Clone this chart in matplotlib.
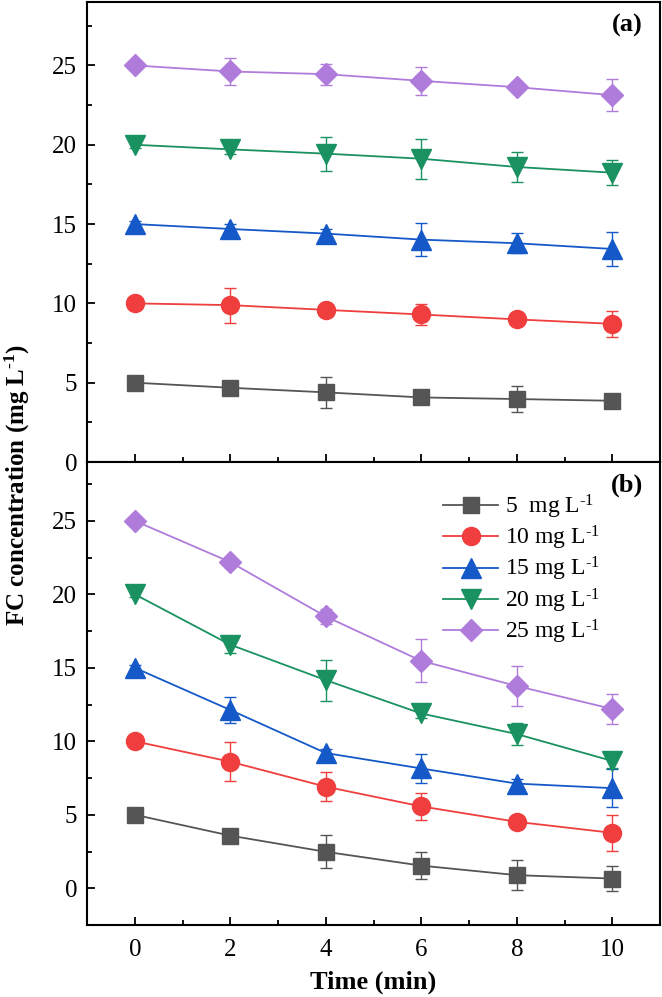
import matplotlib
matplotlib.use('Agg')
import matplotlib.pyplot as plt
from matplotlib.ticker import MultipleLocator

plt.rcParams['font.family'] = ['Liberation Serif', 'DejaVu Serif']
plt.rcParams['mathtext.fontset'] = 'custom'
plt.rcParams['mathtext.rm'] = 'Liberation Serif'
plt.rcParams['mathtext.bf'] = 'Liberation Serif:bold'
plt.rcParams['mathtext.default'] = 'regular'

time = [0, 2, 4, 6, 8, 10]
series_labels = ['5  mg L$^{\\text{-1}}$', '10 mg L$^{\\text{-1}}$', '15 mg L$^{\\text{-1}}$',
                 '20 mg L$^{\\text{-1}}$', '25 mg L$^{\\text{-1}}$']
colors = ['#555555', '#F03E3E', '#1558C8', '#1A9160', '#B07CDC']
markers = ['s', 'o', '^', 'v', 'D']
msizes = [11.5, 13, 14.5, 14.5, 11.5]

# Panel (a)
a_5 = [5.0, 4.68, 4.39, 4.07, 3.97, 3.86]
a_10 = [10.0, 9.89, 9.59, 9.30, 8.99, 8.71]
a_15 = [15.0, 14.69, 14.40, 14.02, 13.79, 13.43]
a_20 = [20.0, 19.71, 19.44, 19.12, 18.60, 18.24]
a_25 = [25.0, 24.62, 24.45, 24.03, 23.63, 23.13]
a_5_err = [0.2, 0.3, 0.98, 0.3, 0.81, 0.3]
a_10_err = [0.2, 1.1, 0.3, 0.65, 0.3, 0.84]
a_15_err = [0.2, 0.3, 0.3, 1.06, 0.63, 1.05]
a_20_err = [0.2, 0.3, 1.07, 1.26, 0.97, 0.8]
a_25_err = [0.2, 0.86, 0.67, 0.9, 0.3, 1.0]

# Panel (b)
b_5 = [5.0, 3.58, 2.48, 1.54, 0.89, 0.66]
b_10 = [10.0, 8.61, 6.91, 5.57, 4.52, 3.77]
b_15 = [15.0, 12.13, 9.20, 8.15, 7.12, 6.81]
b_20 = [20.0, 16.57, 14.16, 11.89, 10.49, 8.66]
b_25 = [25.0, 22.19, 18.49, 15.47, 13.76, 12.20]
b_5_err = [0.2, 0.3, 1.13, 0.94, 1.0, 0.85]
b_10_err = [0.2, 1.32, 0.98, 0.94, 0.3, 1.23]
b_15_err = [0.2, 0.88, 0.3, 0.97, 0.3, 1.3]
b_20_err = [0.2, 0.55, 1.4, 0.3, 0.73, 0.5]
b_25_err = [0.2, 0.3, 0.5, 1.46, 1.35, 1.0]

panels = [
    ([a_5, a_10, a_15, a_20, a_25], [a_5_err, a_10_err, a_15_err, a_20_err, a_25_err], '(a)', (0, 29)),
    ([b_5, b_10, b_15, b_20, b_25], [b_5_err, b_10_err, b_15_err, b_20_err, b_25_err], '(b)', (-2.5, 29)),
]

fig = plt.figure(figsize=(6.62, 9.97), dpi=100)
L, R = 87 / 662, 660 / 662
ax_a = fig.add_axes([L, 1 - 462 / 997, R - L, 460 / 997])
ax_b = fig.add_axes([L, 1 - 925 / 997, R - L, 463 / 997], sharex=ax_a)

for ax, (vals, errs, tag, ylim) in zip([ax_a, ax_b], panels):
    for v, e, c, m, ms, lab in zip(vals, errs, colors, markers, msizes, series_labels):
        ax.errorbar(time, v, yerr=e, fmt='none', ecolor=c, elinewidth=1.0,
                    capsize=4.5, capthick=1.0, zorder=2)
        ax.plot(time, v, color=c, marker=m, markersize=ms, linewidth=1.3,
                markeredgecolor=c, label=lab, zorder=3)
    ax.set_ylim(*ylim)
    ax.set_xlim(-1, 11)
    ax.yaxis.set_major_locator(MultipleLocator(5))
    ax.yaxis.set_minor_locator(MultipleLocator(2.5))
    ax.xaxis.set_major_locator(MultipleLocator(2))
    ax.xaxis.set_minor_locator(MultipleLocator(1))
    ax.tick_params(which='both', direction='in', width=1.3, labelsize=18)
    ax.tick_params(which='major', length=6)
    ax.tick_params(which='minor', length=3.5)
    ax.tick_params(axis='y', pad=7)
    ax.tick_params(axis='x', pad=10)
    for s in ax.spines.values():
        s.set_linewidth(1.5)
    ax.text(0.970, 0.975, tag, transform=ax.transAxes, ha='right', va='top',
            fontsize=19, fontweight='bold')

ax_a.tick_params(axis='x', labelbottom=False)
ax_b.set_xlabel('Time (min)', fontsize=19, fontweight='bold', labelpad=7)
ax_b.legend(loc='upper left', bbox_to_anchor=(0.622, 0.934), frameon=False,
            fontsize=17, handlelength=2.3, handletextpad=0.3, labelspacing=0.13,
            borderpad=0, borderaxespad=0)

fig.text(17 / 662, 1 - 485 / 997, 'FC concentration (mg L$^{\\mathbf{\u2010}\\mathbf{1}}$)',
         rotation=90, ha='center', va='center', fontsize=18, fontweight='bold')

fig.savefig('out.png', dpi=100)
